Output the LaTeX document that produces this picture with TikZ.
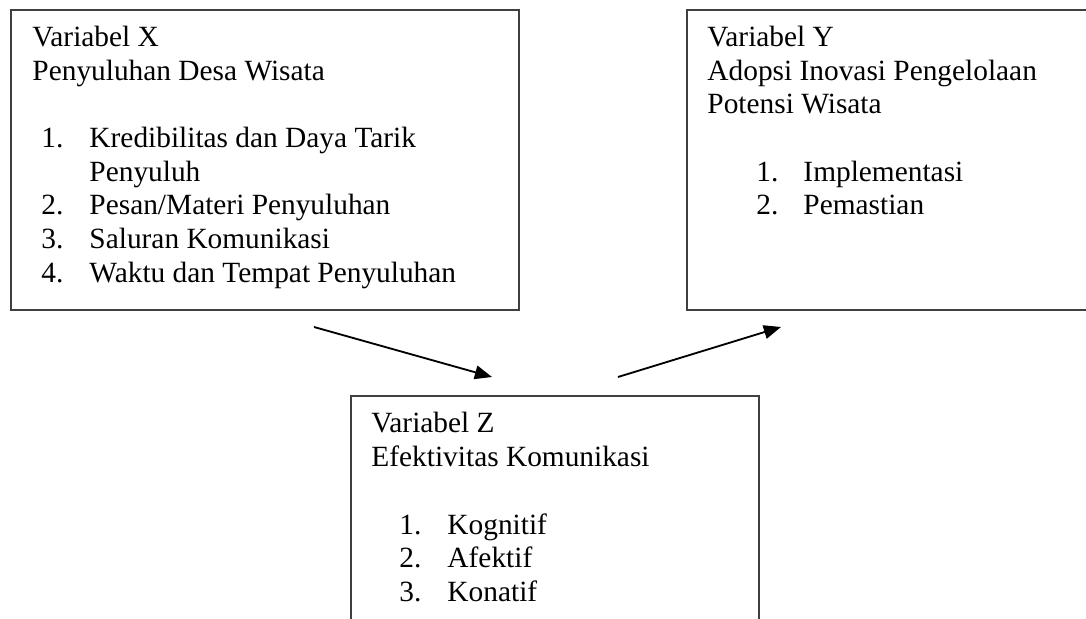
\documentclass[tikz,border=0pt]{standalone}
\usepackage{fontspec}
\setmainfont{Liberation Serif}
\usepackage{tikz}
\usetikzlibrary{arrows.meta}

\begin{document}
\begin{tikzpicture}[x=0.4087pt,y=-0.4087pt,
  box/.style={draw=black!75,line width=0.6pt},
  txt/.style={anchor=base west,inner sep=0pt,font=\fontsize{12}{13.8}\selectfont},
  link/.style={line width=0.75pt,-{Triangle[length=7pt,width=5.6pt]}}]
\useasboundingbox (0,0) rectangle (1086,619);
\begin{scope}
\clip (0,0) rectangle (1086,619);

% Variabel X
\draw[box] (11,10) rectangle (519,310);
\node[txt] (xtitle) at (32,47) {Variabel X};
\node[txt] (xname) at (32,81) {Penyuluhan Desa Wisata};
\node[txt] (xnum1) at (41,148) {1.};
\node[txt] (xitem1) at (89,148) {Kredibilitas dan Daya Tarik};
\node[txt] (xitem1b) at (89,182) {Penyuluh};
\node[txt] (xnum2) at (41,215) {2.};
\node[txt] (xitem2) at (89,215) {Pesan/Materi Penyuluhan};
\node[txt] (xnum3) at (41,249) {3.};
\node[txt] (xitem3) at (89,249) {Saluran Komunikasi};
\node[txt] (xnum4) at (41,283) {4.};
\node[txt] (xitem4) at (89,283) {Waktu dan Tempat Penyuluhan};

% Variabel Y
\draw[box] (687,10) rectangle (1096,310);
\node[txt] (ytitle) at (707,47) {Variabel Y};
\node[txt] (yname) at (707,81) {Adopsi Inovasi Pengelolaan};
\node[txt] (yname2) at (707,114) {Potensi Wisata};
\node[txt] (ynum1) at (756,182) {1.};
\node[txt] (yitem1) at (803,182) {Implementasi};
\node[txt] (ynum2) at (756,215) {2.};
\node[txt] (yitem2) at (803,215) {Pemastian};

% Variabel Z
\draw[box] (351,396) rectangle (759,640);
\node[txt] (ztitle) at (371,433) {Variabel Z};
\node[txt] (zname) at (371,467) {Efektivitas Komunikasi};
\node[txt] (znum1) at (399,535) {1.};
\node[txt] (zitem1) at (447,535) {Kognitif};
\node[txt] (znum2) at (399,568) {2.};
\node[txt] (zitem2) at (447,568) {Afektif};
\node[txt] (znum3) at (399,602) {3.};
\node[txt] (zitem3) at (447,602) {Konatif};

% arrows
\coordinate (xout) at (314,327);
\coordinate (zin) at (492,377);
\coordinate (zout) at (618,377);
\coordinate (yin) at (781,327);
\draw[link] (xout) -- (zin);
\draw[link] (zout) -- (yin);
\end{scope}
\end{tikzpicture}
\end{document}
